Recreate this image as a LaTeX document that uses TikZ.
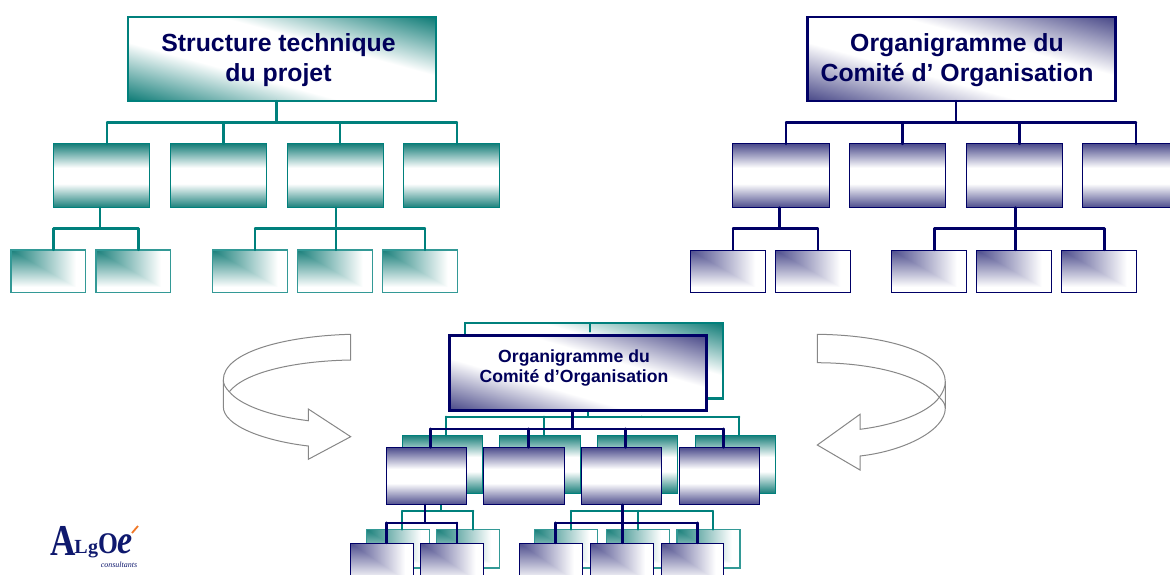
\documentclass[tikz,border=0pt]{standalone}
\usepackage{fontspec}
\setmainfont{Liberation Sans}
\newfontfamily\logofont{Liberation Serif}
\definecolor{orgteal}{RGB}{0,128,124}
\definecolor{orgnavy}{RGB}{0,0,102}
\definecolor{txtnavy}{RGB}{0,0,90}
\definecolor{arrowgrey}{RGB}{135,135,135}
\definecolor{logonavy}{RGB}{15,25,110}
\definecolor{logoorange}{RGB}{240,120,40}
% the path is mapped to 25..75 of the shading box
\newcommand{\orgcorner}[4]{%
 \pgfdeclarefunctionalshading{corner#1}{\pgfpointorigin}{\pgfpoint{100bp}{100bp}}{}{%
  25 sub 50 div 1 exch sub exch 25 sub 50 div
  2 copy sub abs add add 2 div 1.15 mul
  dup 1 #2 sub mul #2 add exch dup 1 #3 sub mul #3 add exch 1 #4 sub mul #4 add
 }%
}
\newcommand{\orgdiag}[4]{%
 \pgfdeclarefunctionalshading{diag#1}{\pgfpointorigin}{\pgfpoint{100bp}{100bp}}{}{%
  25 sub 50 div exch 25 sub 50 div add 1 sub abs
  0.3 sub 1.43 mul dup abs add 2 div 1 exch sub
  dup 1 #2 sub mul #2 add exch dup 1 #3 sub mul #3 add exch 1 #4 sub mul #4 add
 }%
}
\newcommand{\orgband}[4]{%
 \pgfdeclarefunctionalshading{band#1}{\pgfpointorigin}{\pgfpoint{100bp}{100bp}}{}{%
  exch pop 25 sub 50 div 2 mul 1 sub abs
  0.25 sub 1.333 mul dup abs add 2 div 1 exch sub
  dup 1 #2 sub mul #2 add exch dup 1 #3 sub mul #3 add exch 1 #4 sub mul #4 add
 }%
}
\orgband{teal}{0.10}{0.50}{0.48}
\orgband{navy}{0.30}{0.30}{0.55}
\orgcorner{teal}{0.10}{0.50}{0.48}
\orgcorner{navy}{0.30}{0.30}{0.55}
\orgdiag{teal}{0.05}{0.48}{0.46}
\orgdiag{navy}{0.28}{0.28}{0.53}
\tikzset{
 orgbox/.style={rectangle,inner sep=0pt,outer sep=0pt,draw,shade},
 tealbig/.style={orgbox,draw=orgteal,line width=2.4pt,shading=diagteal},
 navybig/.style={orgbox,draw=orgnavy,line width=2.4pt,shading=diagnavy},
 tealmid/.style={orgbox,draw=orgteal,line width=1pt,shading=bandteal},
 navymid/.style={orgbox,draw=orgnavy,line width=1pt,shading=bandnavy},
 tealsmall/.style={orgbox,draw=orgteal!80,line width=1.1pt,shading=cornerteal},
 navysmall/.style={orgbox,draw=orgnavy,line width=1pt,shading=cornernavy},
 teallink/.style={draw=orgteal,line width=2.1pt,line cap=round},
 navylink/.style={draw=orgnavy,line width=2.4pt,line cap=round},
 ribbon/.style={draw=arrowgrey,line width=1pt,fill=white,line join=miter},
 titletext/.style={font=\bfseries\fontsize{24.8}{30}\selectfont,text=txtnavy,align=center},
 smalltext/.style={font=\bfseries\fontsize{17.6}{20}\selectfont,text=txtnavy,align=center},
 logoletter/.style={text=logonavy,inner sep=0pt,anchor=base},
}
% \bx{style}{name}{x1}{y1}{x2}{y2}
\newcommand{\bx}[6]{\node[#1,minimum width=(#5-#3)*1pt,minimum height=(#6-#4)*1pt] (#2) at ({(#3+#5)/2},{(#4+#6)/2}) {};}
% \orglink{style}{parent}{stem x}{bus y}{left x}{right x}{child x/child name,...}
\newcommand{\orglink}[7]{%
 \coordinate (bs) at (#3,#4);\coordinate (bl) at (#5,#4);\coordinate (br) at (#6,#4);
 \draw[#1] (bs |- #2.south) -- (bs);
 \draw[#1] (bl) -- (br);
 \foreach \cx/\cn in {#7}{\coordinate (bc) at (\cx,#4);\draw[#1] (bc) -- (bc |- \cn.north);}
}
\begin{document}
\begin{tikzpicture}[x=1pt,y=-1pt]
\useasboundingbox (0,0) rectangle (1170,575);
\clip (0,0) rectangle (1170,575);
% ---------- left chart
\bx{tealbig}{lt}{128}{17}{436}{101}
\bx{tealmid}{la}{53}{144}{149.5}{207.5}
\bx{tealmid}{lb}{170}{144}{266.5}{207.5}
\bx{tealmid}{lc}{287}{144}{383}{207.5}
\bx{tealmid}{ld}{403.5}{144}{499.5}{207.5}
\bx{tealsmall}{la1}{11}{250}{85.5}{292.5}
\bx{tealsmall}{la2}{96}{250}{170.5}{292.5}
\bx{tealsmall}{lc1}{212.5}{250}{287.5}{292.5}
\bx{tealsmall}{lc2}{297.5}{250}{372.5}{292.5}
\bx{tealsmall}{lc3}{382.5}{250}{457.5}{292.5}
\node[titletext] (ltt) at (278.5,60.5) {Structure technique\\du projet};
\orglink{teallink}{lt}{276.5}{122.5}{107}{457}{107/la,223.5/lb,340/lc,457/ld}
\orglink{teallink}{la}{100}{228.5}{53.5}{138.5}{53.5/la1,138.5/la2}
\orglink{teallink}{lc}{336}{228.5}{255}{425}{255/lc1,336/lc2,425/lc3}
% ---------- right chart
\bx{navybig}{rt}{807.5}{17}{1115.5}{101}
\bx{navymid}{ra}{732.5}{144}{829}{207.5}
\bx{navymid}{rb}{849}{144}{945.5}{207.5}
\bx{navymid}{rc}{966}{144}{1062}{207.5}
\bx{navymid}{rd}{1082.5}{144}{1179}{207.5}
\bx{navysmall}{ra1}{690}{250}{765}{292.5}
\bx{navysmall}{ra2}{775}{250}{850}{292.5}
\bx{navysmall}{rc1}{891.7}{250}{966.5}{292.5}
\bx{navysmall}{rc2}{976.7}{250}{1051.5}{292.5}
\bx{navysmall}{rc3}{1061.7}{250}{1136.5}{292.5}
\node[titletext] (rtt) at (957,60.5) {Organigramme du\\Comité d’ Organisation};
\orglink{navylink}{rt}{955.7}{122.5}{786}{1136}{786/ra,902.3/rb,1019.3/rc,1136/rd}
\orglink{navylink}{ra}{779.3}{228.5}{733}{817.7}{733/ra1,817.7/ra2}
\orglink{navylink}{rc}{1015.3}{228.5}{934.3}{1104.3}{934.3/rc1,1015.3/rc2,1104.3/rc3}
% ---------- centre, teal layer
\bx{tealbig}{bt}{465}{323}{723}{398.5}
\coordinate (btick) at (590,331.5);
\draw[teallink] (btick) -- (btick |- bt.north);
\bx{tealmid}{ba}{402.5}{435.5}{482.7}{493}
\bx{tealmid}{bb}{499}{435.5}{580.7}{493}
\bx{tealmid}{bc}{597.3}{435.5}{677.7}{493}
\bx{tealmid}{bd}{695.3}{435.5}{775.7}{493}
\bx{tealsmall}{ba1}{366.3}{529.5}{429.3}{568}
\bx{tealsmall}{ba2}{436.7}{529.5}{499.3}{568}
\bx{tealsmall}{bc1}{534.7}{529.5}{597.7}{568}
\bx{tealsmall}{bc2}{606.7}{529.5}{669.3}{568}
\bx{tealsmall}{bc3}{677}{529.5}{740}{568}
\orglink{teallink}{bt}{588.3}{416.7}{446}{739.3}{446/ba,544.3/bb,641.7/bc,739.3/bd}
\orglink{teallink}{ba}{441}{511}{402.3}{473.3}{402.3/ba1,473.3/ba2}
\orglink{teallink}{bc}{638.3}{511}{571}{712.7}{571/bc1,638.3/bc2,712.7/bc3}
% ---------- centre, navy layer
\bx{navybig}{ft}{449.5}{335.5}{706.5}{410.5}
\node[smalltext] (ftt) at (574,367.5) {Organigramme du\\Comité d’Organisation};
\bx{navymid}{fa}{386.7}{447.5}{466.3}{504.7}
\bx{navymid}{fb}{483.3}{447.5}{564.7}{504.7}
\bx{navymid}{fc}{581.3}{447.5}{661.3}{504.7}
\bx{navymid}{fd}{679.3}{447.5}{759.3}{504.7}
\bx{navysmall}{fa1}{350.3}{543}{413.3}{585}
\bx{navysmall}{fa2}{420.7}{543}{483.7}{585}
\bx{navysmall}{fc1}{519}{543}{582}{585}
\bx{navysmall}{fc2}{590.3}{543}{653.3}{585}
\bx{navysmall}{fc3}{661}{543}{723.7}{585}
\orglink{navylink}{ft}{572.3}{428.7}{430.3}{723.3}{430.3/fa,528.3/fb,625.3/fc,723.3/fd}
\orglink{navylink}{fa}{425}{522.7}{386.3}{457}{386.3/fa1,457/fa2}
\orglink{navylink}{fc}{622.3}{522.7}{555.3}{697.3}{555.3/fc1,622.3/fc2,697.3/fc3}
% ---------- curved arrows
\draw[ribbon] (350.7,334.3) .. controls (285,336) and (223.3,352) .. (223.3,380)
  -- (223.3,406.7) .. controls (223.3,426) and (265,441) .. (308.3,446)
  -- (308.3,459.3) -- (350.7,436.7) -- (308.3,409) -- (308.3,420.7)
  .. controls (270,416) and (240,405) .. (229.3,391.7)
  .. controls (245,372) and (295,361) .. (350.7,360) -- cycle;
\draw[ribbon] (223.3,380) .. controls (223.3,384) and (225.5,388) .. (229.3,391.7);
\draw[ribbon] (817.3,334.3) .. controls (885,335) and (945.3,352) .. (945.3,381.7)
  -- (945.3,408.3) .. controls (945.3,430) and (905,451) .. (860,456)
  -- (860,470) -- (817.3,445) -- (860,414.3) -- (860,429.3)
  .. controls (895,425) and (928,413) .. (939.3,397.3)
  .. controls (925,378) and (880,363) .. (817.3,362.7) -- cycle;
\draw[ribbon] (939.3,397.3) .. controls (943,392) and (945.3,387) .. (945.3,381.7);
\draw[ribbon,fill=none] (939.3,397.3) .. controls (943,401) and (945.3,404) .. (945.3,408.3);
% ---------- logo
\node[logoletter,font=\logofont\bfseries\fontsize{44}{44}\selectfont,xscale=0.8] (lga) at (63,555) {A};
\node[logoletter,font=\logofont\bfseries\fontsize{20}{20}\selectfont] (lgl) at (81,553) {L};
\node[logoletter,font=\logofont\bfseries\fontsize{20}{20}\selectfont] (lgg) at (93,553) {g};
\node[logoletter,font=\logofont\bfseries\fontsize{30}{30}\selectfont,xscale=0.85] (lgo) at (108,553) {O};
\node[logoletter,font=\logofont\itshape\bfseries\fontsize{40}{40}\selectfont,xscale=0.85] (lge) at (125,553) {e};
\draw[logoorange,line width=1.8pt] (132,533) -- (138,526);
\node[logoletter,font=\logofont\itshape\fontsize{8}{8}\selectfont] (lgc) at (119,567) {consultants};
\end{tikzpicture}
\end{document}
